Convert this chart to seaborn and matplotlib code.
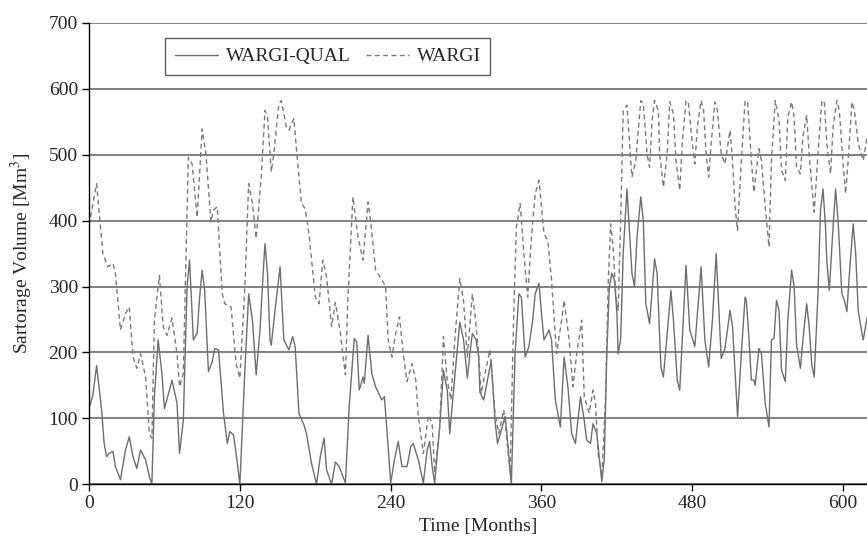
import matplotlib
matplotlib.use("Agg")
import matplotlib.pyplot as plt
import seaborn as sns

# WARGI-QUAL (solid) : month, storage volume [Mm3]
qual_months = [0, 3, 6, 10, 12, 14, 16, 19, 21, 25, 29, 32, 35, 38, 41, 45, 48, 50, 52, 55,
               58, 60, 64, 66, 70, 72, 75, 78, 80, 83, 86, 88, 90, 92, 95, 98, 100, 103, 107, 110,
               112, 115, 118, 120, 124, 127, 130, 133, 136, 139, 140, 142, 144, 145, 148, 152, 155, 159, 162, 164,
               167, 171, 173, 177, 181, 184, 187, 189, 193, 196, 199, 201, 204, 207, 211, 213, 215, 218, 219, 222,
               225, 228, 233, 235, 238, 240, 243, 246, 249, 253, 256, 258, 262, 266, 269, 271, 273, 275, 279, 282,
               285, 287, 291, 295, 298, 301, 303, 305, 308, 310, 311, 314, 317, 320, 323, 325, 328, 331, 332, 336,
               339, 342, 344, 347, 350, 353, 355, 358, 360, 362, 366, 368, 371, 375, 378, 381, 384, 387, 391, 394,
               396, 399, 401, 404, 408, 410, 412, 414, 416, 418, 420, 421, 423, 425, 428, 431, 432, 434, 436, 439,
               441, 443, 446, 450, 452, 455, 457, 460, 463, 465, 468, 470, 472, 475, 478, 482, 487, 490, 493, 496,
               499, 503, 506, 510, 512, 516, 519, 522, 523, 525, 527, 529, 530, 533, 535, 538, 541, 543, 545, 547,
               549, 551, 554, 556, 559, 561, 563, 566, 568, 571, 573, 575, 577, 580, 582, 584, 586, 587, 589, 592,
               594, 596, 599, 601, 603, 605, 608, 610, 612, 615, 616, 619]
qual_volume = [115, 135, 180, 113, 62, 42, 47, 50, 27, 7, 52, 72, 42, 24, 52, 37, 12, 0, 133, 219,
               168, 115, 143, 158, 123, 47, 97, 300, 340, 219, 229, 284, 325, 294, 171, 186, 206, 204, 108, 62,
               80, 75, 32, 0, 173, 289, 249, 166, 234, 335, 365, 320, 219, 211, 264, 330, 219, 204, 224, 209,
               108, 90, 77, 32, 0, 42, 70, 22, 0, 34, 27, 17, 2, 118, 221, 216, 143, 163, 153, 226,
               168, 148, 128, 133, 57, 2, 37, 65, 27, 27, 57, 62, 37, 2, 52, 65, 27, 2, 87, 173,
               143, 77, 163, 246, 219, 161, 198, 229, 219, 193, 140, 128, 158, 188, 97, 62, 82, 103, 87, 0,
               198, 289, 284, 193, 209, 249, 289, 305, 259, 219, 234, 219, 128, 87, 193, 148, 77, 62, 133, 97,
               67, 62, 92, 77, 4, 40, 200, 300, 320, 310, 260, 198, 220, 350, 448, 350, 320, 300, 375, 436,
               400, 274, 244, 342, 320, 178, 163, 229, 294, 249, 158, 143, 219, 332, 234, 209, 330, 219, 178, 249,
               350, 191, 206, 264, 239, 103, 198, 284, 279, 224, 158, 158, 150, 206, 198, 123, 87, 219, 221, 279,
               264, 173, 156, 249, 325, 300, 211, 176, 219, 274, 239, 183, 163, 289, 416, 448, 390, 340, 294, 390,
               448, 400, 289, 279, 262, 320, 395, 350, 264, 229, 219, 252]

# WARGI (dashed)
wargi_months = [0, 6, 11, 15, 19, 21, 25, 29, 32, 35, 38, 41, 45, 48, 50, 52, 56, 59, 62, 66,
                70, 72, 75, 79, 82, 86, 90, 93, 97, 99, 102, 106, 108, 113, 117, 120, 124, 127, 130, 133,
                137, 140, 142, 145, 147, 151, 153, 157, 159, 163, 165, 169, 172, 175, 180, 183, 186, 189, 193, 196,
                200, 202, 204, 206, 210, 214, 218, 222, 224, 228, 233, 236, 238, 241, 244, 247, 250, 253, 257, 260,
                262, 266, 270, 273, 275, 279, 282, 285, 288, 291, 295, 298, 301, 305, 307, 310, 312, 315, 319, 323,
                326, 330, 332, 335, 338, 340, 343, 346, 349, 352, 355, 358, 362, 365, 368, 372, 376, 378, 382, 385,
                388, 392, 394, 398, 401, 403, 405, 408, 411, 413, 415, 417, 419, 421, 423, 425, 428, 431, 432, 435,
                439, 441, 444, 446, 448, 450, 453, 454, 457, 460, 462, 465, 467, 470, 472, 475, 477, 480, 482, 484,
                487, 489, 491, 493, 495, 498, 500, 503, 506, 508, 510, 512, 514, 516, 519, 522, 524, 527, 529, 533,
                535, 538, 541, 543, 546, 549, 551, 554, 556, 559, 561, 563, 566, 568, 571, 573, 576, 577, 580, 583,
                585, 587, 590, 592, 595, 597, 600, 602, 604, 607, 609, 612, 614, 616, 619]
wargi_volume = [393, 456, 350, 330, 335, 320, 234, 259, 269, 193, 176, 198, 163, 77, 70, 249, 317, 239, 226, 252,
                198, 148, 168, 496, 486, 405, 539, 501, 398, 416, 421, 289, 274, 269, 183, 161, 300, 456, 426, 373,
                466, 567, 557, 474, 501, 577, 582, 542, 537, 555, 509, 426, 418, 380, 284, 274, 340, 315, 239, 276,
                229, 196, 166, 284, 436, 375, 340, 428, 400, 325, 310, 300, 219, 193, 229, 254, 198, 156, 183, 158,
                103, 47, 105, 92, 17, 87, 224, 158, 128, 219, 312, 279, 193, 289, 259, 198, 138, 168, 204, 108,
                77, 113, 77, 17, 264, 390, 426, 350, 284, 375, 441, 461, 380, 370, 310, 198, 249, 279, 219, 148,
                198, 249, 133, 108, 143, 123, 47, 12, 133, 300, 395, 360, 290, 264, 400, 567, 575, 491, 466, 491,
                582, 577, 501, 481, 552, 582, 567, 501, 451, 501, 580, 562, 491, 446, 517, 582, 577, 517, 486, 542,
                582, 567, 501, 466, 517, 580, 567, 501, 486, 511, 537, 491, 421, 385, 491, 582, 580, 491, 443, 509,
                491, 421, 360, 491, 582, 552, 476, 461, 557, 580, 557, 481, 471, 527, 560, 501, 431, 413, 501, 580,
                582, 517, 471, 542, 582, 567, 486, 441, 491, 580, 567, 517, 504, 491, 527]

x_ticks = [0, 120, 240, 360, 480, 600]
y_ticks = [0, 100, 200, 300, 400, 500, 600, 700]

sns.set_style("white")
plt.rcParams['font.family'] = ['Liberation Serif', 'DejaVu Serif']
plt.rcParams['mathtext.fontset'] = 'stix'

fig = plt.figure(figsize=(8.67, 5.43), dpi=100)
ax = fig.add_axes([0.1027, 0.108, 0.8973, 0.850])

sns.lineplot(x=qual_months, y=qual_volume, ax=ax, color='#6e6e6e', linewidth=1.0,
             label='WARGI-QUAL')
sns.lineplot(x=wargi_months, y=wargi_volume, ax=ax, color='#7a7a7a', linewidth=1.0,
             linestyle=(0, (3.5, 2.5)), label='WARGI')

ax.set_xlim(0, 619)
ax.set_ylim(0, 700)
ax.set_xticks(x_ticks)
ax.set_yticks(y_ticks)
ax.yaxis.grid(True, color='#808080', linewidth=1.4)
ax.xaxis.grid(False)
ax.set_axisbelow(True)

for side in ['top', 'right']:
    ax.spines[side].set_visible(False)
for side in ['left', 'bottom']:
    ax.spines[side].set_color('black')
    ax.spines[side].set_linewidth(1.0)

ax.tick_params(axis='both', direction='out', length=5, width=1, color='black',
               labelsize=14, left=True, bottom=True, pad=3)
ax.set_xlabel('Time [Months]', fontsize=14, labelpad=4)
ax.set_ylabel('Sartorage Volume [Mm$^3$]', fontsize=14, labelpad=10)

leg = ax.legend(loc='upper left', bbox_to_anchor=(0.098, 0.967), ncol=2, fontsize=14,
                frameon=True, fancybox=False, handlelength=2.2, columnspacing=0.8,
                handletextpad=0.4, borderpad=0.5, borderaxespad=0)
leg.get_frame().set_edgecolor('#333333')
leg.get_frame().set_linewidth(1.0)

fig.savefig('out.png', dpi=100)
